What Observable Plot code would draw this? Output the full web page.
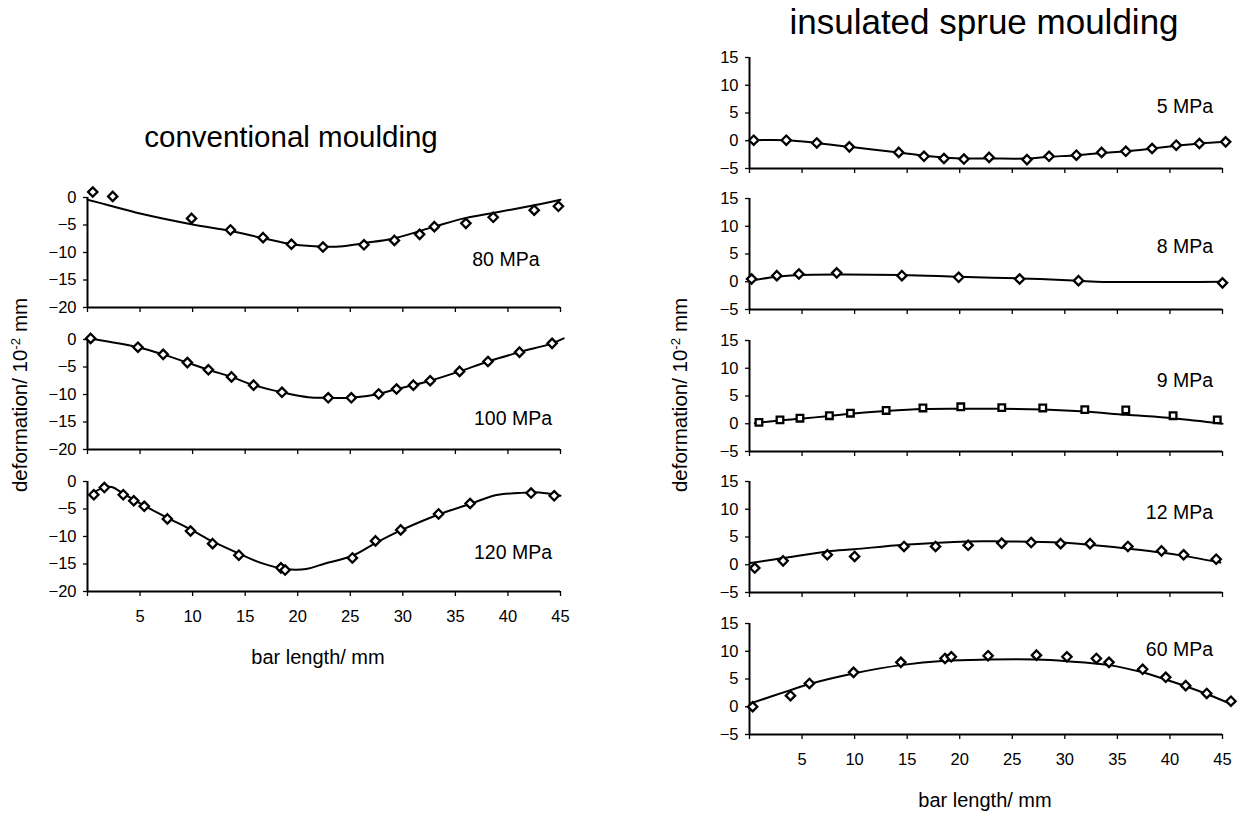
<!DOCTYPE html>
<html>
<head>
<meta charset="utf-8">
<script src="https://cdn.jsdelivr.net/npm/d3@7"></script>
<script src="https://cdn.jsdelivr.net/npm/@observablehq/plot@0.6"></script>
<style>
  html, body { margin: 0; padding: 0; background: #fff; }
  #wrap { position: relative; width: 1237px; height: 814px; overflow: hidden; font-family: "Liberation Sans", Arial, sans-serif; color: #000; }
  .abs { position: absolute; }
  .t { position: absolute; transform: translate(-50%, -50%); white-space: nowrap; }
  .rot { position: absolute; transform: translate(-50%, -50%) rotate(-90deg); white-space: nowrap; }
  sup { font-size: 65%; vertical-align: 0.55em; line-height: 0; }
</style>
</head>
<body>
<div id="wrap"></div>
<script>
// ---------------- data ----------------
const xTicks = [0, 5, 10, 15, 20, 25, 30, 35, 40, 45];
const convYTicks = [0, -5, -10, -15, -20];
const insYTicks = [15, 10, 5, 0, -5];

// conventional moulding
const mpa80Points = [[0.5,1.0],[2.4,0.2],[9.9,-3.8],[13.6,-5.9],[16.7,-7.3],[19.4,-8.5],[22.4,-9.0],[26.3,-8.6],[29.2,-7.8],[31.6,-6.7],[33.0,-5.3],[36.0,-4.7],[38.6,-3.6],[42.5,-2.3],[44.8,-1.6]];
const mpa80Line = [[0,-0.4],[2,-1.4],[5,-2.9],[10,-4.9],[13.6,-6.1],[16.7,-7.4],[19.4,-8.5],[22,-8.9],[24,-8.9],[26.3,-8.3],[29.2,-7.4],[33,-5.3],[36,-3.7],[38.6,-2.8],[42.5,-1.4],[45,-0.4]];

const mpa100Points = [[0.3,0.2],[4.8,-1.4],[7.2,-2.7],[9.5,-4.2],[11.5,-5.5],[13.7,-6.8],[15.8,-8.3],[18.5,-9.6],[22.9,-10.6],[25.1,-10.6],[27.7,-9.9],[29.4,-9.0],[31.0,-8.3],[32.6,-7.5],[35.4,-5.8],[38.1,-4.0],[41.1,-2.3],[44.2,-0.7]];
const mpa100Line = [[0.3,0.2],[4.8,-1.4],[7.2,-2.7],[9.5,-4.2],[11.5,-5.5],[13.7,-6.8],[15.8,-8.3],[18.5,-9.6],[21,-10.5],[22.9,-10.6],[25.1,-10.6],[27.7,-9.9],[29.4,-9.0],[31,-8.3],[32.6,-7.5],[35.4,-5.8],[38.1,-4.0],[41.1,-2.3],[44.2,-0.7],[45.3,0.2]];

const mpa120Points = [[0.6,-2.4],[1.6,-1.1],[3.4,-2.4],[4.4,-3.5],[5.4,-4.5],[7.6,-6.8],[9.8,-9.0],[11.9,-11.3],[14.4,-13.4],[18.4,-15.7],[18.8,-16.1],[25.2,-13.9],[27.4,-10.8],[29.8,-8.8],[33.4,-5.9],[36.4,-4.0],[42.2,-2.1],[44.4,-2.6]];
const mpa120Line = [[0.7,-1.9],[1.4,-1.2],[2.3,-1.0],[3.4,-2.2],[4.4,-3.3],[5.4,-4.4],[7.6,-6.6],[9.8,-8.7],[11.9,-10.9],[14.4,-13.1],[16.5,-14.8],[18.8,-15.9],[20.8,-15.9],[22.6,-14.9],[25.2,-13.5],[27.4,-11.2],[29.8,-8.9],[33.4,-6.0],[36.4,-4.1],[38.8,-2.5],[41,-2.1],[43,-2.0],[45,-2.6]];

// insulated sprue moulding
const mpa5Points = [[0.4,0.1],[3.5,0.1],[6.4,-0.4],[9.5,-1.1],[14.2,-2.1],[16.6,-2.8],[18.5,-3.2],[20.4,-3.3],[22.8,-3.0],[26.4,-3.4],[28.5,-2.8],[31.1,-2.6],[33.5,-2.1],[35.8,-1.9],[38.3,-1.4],[40.6,-0.8],[42.8,-0.5],[45.3,-0.2]];
const mpa5Line = [[0.4,0.1],[3.5,0.1],[6.4,-0.4],[9.5,-1.1],[14.2,-2.1],[16.6,-2.7],[18.5,-3.0],[20.4,-3.2],[22.8,-3.2],[26.4,-3.2],[28.5,-2.9],[31.1,-2.6],[33.5,-2.2],[35.8,-1.9],[38.3,-1.4],[40.6,-0.9],[42.8,-0.5],[45.3,-0.2]];

const mpa8Points = [[0.2,0.5],[2.6,1.1],[4.7,1.4],[8.3,1.6],[14.5,1.1],[19.9,0.8],[25.7,0.5],[31.3,0.2],[45.0,-0.2]];
const mpa8Line = [[0.1,0.2],[2.6,0.9],[4.7,1.2],[8.3,1.3],[14.5,1.2],[19.9,0.9],[25.7,0.6],[31.3,0.2],[33,0.0],[45,0.0]];

const mpa9Points = [[0.9,0.25],[2.9,0.7],[4.8,1.0],[7.6,1.45],[9.6,1.9],[13.0,2.4],[16.5,2.85],[20.1,3.05],[24.0,2.9],[27.9,2.85],[31.9,2.55],[35.8,2.5],[40.3,1.45],[44.5,0.7]];
const mpa9Line = [[0.5,0.1],[2.9,0.6],[4.8,0.9],[7.6,1.4],[9.6,1.8],[13,2.3],[16.5,2.65],[20.1,2.7],[24,2.7],[27.9,2.55],[31.9,2.2],[35.8,1.6],[40.3,1.0],[45,0.0]];

const mpa12Points = [[0.5,-0.6],[3.2,0.7],[7.4,1.8],[10.0,1.5],[14.7,3.3],[17.7,3.3],[20.8,3.5],[24.0,3.9],[26.8,4.0],[29.6,3.8],[32.4,3.8],[36.0,3.3],[39.2,2.5],[41.3,1.8],[44.4,1.0]];
const mpa12Line = [[0.1,0.3],[3.2,1.2],[7.4,2.4],[10,2.8],[14.7,3.6],[20.8,4.2],[24,4.2],[29.6,4.0],[32.4,3.6],[36,2.9],[39.2,2.2],[41.3,1.6],[44.8,0.4]];

const mpa60Points = [[0.3,0.0],[3.9,2.0],[5.7,4.2],[9.9,6.2],[14.4,8.0],[18.6,8.7],[19.2,9.0],[22.7,9.2],[27.3,9.3],[30.2,9.0],[33.0,8.7],[34.2,8.0],[37.4,6.75],[39.6,5.3],[41.5,3.8],[43.5,2.4],[45.8,1.0]];
const mpa60Line = [[0.1,0.6],[3.9,3.0],[5.7,4.1],[9.9,6.0],[14.4,7.5],[18.6,8.3],[22.7,8.5],[27.3,8.5],[30.2,8.2],[34.2,7.5],[37.4,6.2],[39.6,4.9],[41.5,3.7],[43.5,2.3],[45.8,0.5]];

const labels = ["80 MPa","100 MPa","120 MPa","5 MPa","8 MPa","9 MPa","12 MPa","60 MPa"];
const titles = ["conventional moulding", "insulated sprue moulding"];

// ---------------- layout ----------------
const wrap = document.getElementById("wrap");
const FONT = "'Liberation Sans', Arial, sans-serif";
const toObj = a => a.map(([x, y]) => ({x, y}));

function panel(cfg) {
  const mt = 20, mb = cfg.showX ? 45 : 14;
  const plot = Plot.plot({
    width: cfg.width,
    height: mt + cfg.inner + mb,
    marginLeft: cfg.ml, marginRight: cfg.width - cfg.ml - 473,
    marginTop: mt, marginBottom: mb,
    x: {domain: [0, 45]},
    y: {domain: cfg.yDomain},
    style: {fontFamily: FONT, fontSize: "16px", color: "#000", background: "transparent", overflow: "visible"},
    marks: [
      Plot.axisY({ticks: cfg.yTicks, tickSize: 4, tickPadding: 7, fontSize: 16.5, label: null, strokeWidth: 1.3}),
      Plot.axisX({ticks: xTicks, tickSize: 5, tickPadding: 14, fontSize: 16.5, label: null, strokeWidth: 1.3,
                  tickFormat: d => (cfg.showX && d !== 0) ? String(d) : ""}),
      Plot.ruleX([0], {stroke: "#000", strokeWidth: 2}),
      Plot.ruleY([cfg.yDomain[0]], {stroke: "#000", strokeWidth: 2.2}),
      Plot.line(toObj(cfg.line), {x: "x", y: "y", curve: "catmull-rom", stroke: "#000", strokeWidth: 2}),
      Plot.dot(toObj(cfg.points), {x: "x", y: "y", symbol: cfg.symbol || "diamond2", r: cfg.r || 4.2,
                  stroke: "#000", fill: "#fff", strokeWidth: 2.3}),
      Plot.text([cfg.label], {x: cfg.lx, y: cfg.ly, text: d => d, textAnchor: "end", fontSize: 19.5, fill: "#000"})
    ]
  });
  plot.classList.add("abs");
  plot.style.left = cfg.left + "px";
  plot.style.top = (cfg.top - mt) + "px";
  wrap.appendChild(plot);
}

const leftCol = {width: 600, ml: 87, left: 0, yDomain: [-20, 0], yTicks: convYTicks, inner: 110};
panel({...leftCol, top: 197, points: mpa80Points, line: mpa80Line, label: labels[0], lx: 43.0, ly: -11.3});
panel({...leftCol, top: 339, points: mpa100Points, line: mpa100Line, label: labels[1], lx: 44.2, ly: -14.4});
panel({...leftCol, top: 481, points: mpa120Points, line: mpa120Line, label: labels[2], lx: 44.2, ly: -12.9, showX: true});

const rightCol = {width: 597, ml: 109, left: 640, yDomain: [-5, 15], yTicks: insYTicks, inner: 111};
panel({...rightCol, top: 57, points: mpa5Points, line: mpa5Line, label: labels[3], lx: 44.1, ly: 6.2});
panel({...rightCol, top: 198, points: mpa8Points, line: mpa8Line, label: labels[4], lx: 44.1, ly: 6.35});
panel({...rightCol, top: 340, points: mpa9Points, line: mpa9Line, label: labels[5], lx: 44.1, ly: 7.7, symbol: "square2", r: 4.2});
panel({...rightCol, top: 481, points: mpa12Points, line: mpa12Line, label: labels[6], lx: 44.1, ly: 9.4});
panel({...rightCol, top: 623, points: mpa60Points, line: mpa60Line, label: labels[7], lx: 44.1, ly: 10.2, showX: true});

function addText(html, x, y, size, cls) {
  const d = document.createElement("div");
  d.className = cls || "t";
  d.style.left = x + "px";
  d.style.top = y + "px";
  d.style.fontSize = size + "px";
  d.innerHTML = html;
  wrap.appendChild(d);
}
addText(titles[0], 291, 137, 29.5);
addText(titles[1], 984, 22, 35);
addText("bar length/ mm", 318, 657, 20);
addText("bar length/ mm", 985, 800, 20);
addText("deformation/ 10<sup>-2</sup> mm", 20, 395, 20.5, "rot");
addText("deformation/ 10<sup>-2</sup> mm", 680, 395, 20.5, "rot");
</script>
</body>
</html>
